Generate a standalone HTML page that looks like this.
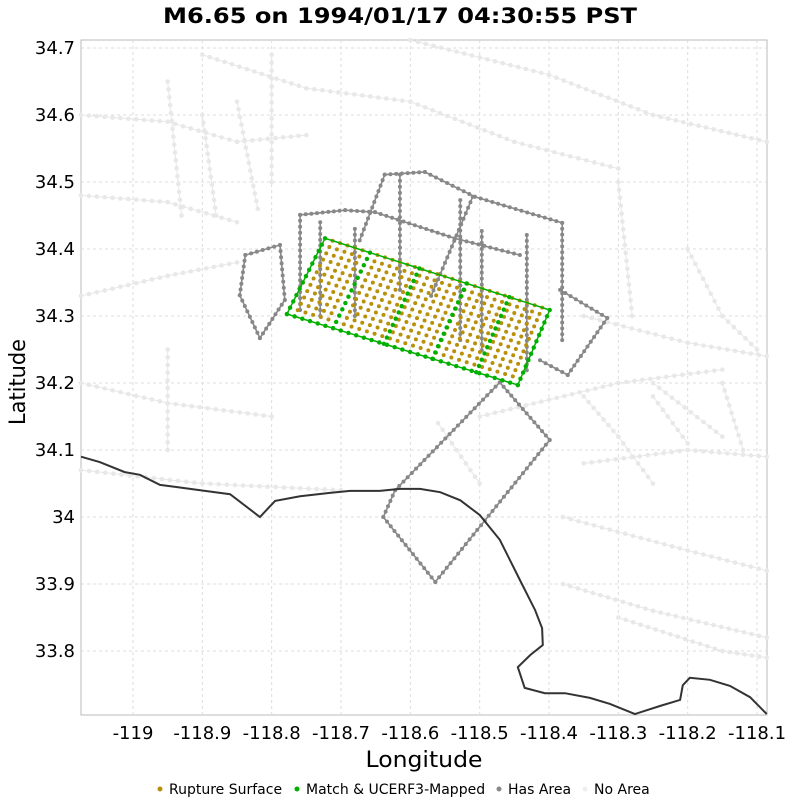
<!DOCTYPE html>
<html><head><meta charset="utf-8"><style>
body{margin:0;background:#fff;font-family:"DejaVu Sans",sans-serif}
</style></head><body>
<svg id="c" width="800" height="800" xmlns="http://www.w3.org/2000/svg" style="font-family:'DejaVu Sans',sans-serif">
<text x="400" y="23" text-anchor="middle" font-size="21" font-weight="bold" textLength="474" lengthAdjust="spacingAndGlyphs">M6.65 on 1994/01/17 04:30:55 PST</text>
<g id="grid"></g><g id="bg"></g><g id="has"></g><g id="rup"></g><g id="coast"></g><g id="axes"></g>
<text x="424" y="767" text-anchor="middle" font-size="22" textLength="117" lengthAdjust="spacingAndGlyphs">Longitude</text>
<text transform="translate(25,382) rotate(-90)" text-anchor="middle" font-size="22" textLength="86" lengthAdjust="spacingAndGlyphs">Latitude</text>
<g font-size="14">
<circle cx="160" cy="789" r="2.5" fill="#b8900a"/><text x="169" y="794">Rupture Surface</text>
<circle cx="297" cy="789" r="2.5" fill="#00b000"/><text x="306" y="794">Match &amp; UCERF3-Mapped</text>
<circle cx="499" cy="789" r="2.5" fill="#888"/><text x="508" y="794">Has Area</text>
<circle cx="585" cy="789" r="2.5" fill="#eee"/><text x="594" y="794">No Area</text>
</g>
</svg>
<script>
const xTicks=[-119,-118.9,-118.8,-118.7,-118.6,-118.5,-118.4,-118.3,-118.2,-118.1];
const xTickLabels=["-119","-118.9","-118.8","-118.7","-118.6","-118.5","-118.4","-118.3","-118.2","-118.1"];
const yTicks=[34.7,34.6,34.5,34.4,34.3,34.2,34.1,34,33.9,33.8];
const yTickLabels=["34.7","34.6","34.5","34.4","34.3","34.2","34.1","34","33.9","33.8"];
const lonMin=-119.075,lonMax=-118.0856,latMin=33.7045,latMax=34.712;
const coastLon=[-119.075,-119.048,-119.012,-118.990,-118.961,-118.939,-118.903,-118.860,-118.817,-118.795,-118.759,-118.716,-118.687,-118.644,-118.615,-118.586,-118.557,-118.528,-118.500,-118.471,-118.442,-118.420,-118.410,-118.409,-118.427,-118.445,-118.435,-118.406,-118.377,-118.341,-118.312,-118.276,-118.240,-118.211,-118.207,-118.197,-118.168,-118.139,-118.110,-118.086];
const coastLat=[34.090,34.082,34.067,34.063,34.048,34.045,34.040,34.034,34.000,34.024,34.031,34.036,34.039,34.039,34.042,34.042,34.037,34.025,34.003,33.966,33.906,33.861,33.834,33.809,33.794,33.776,33.745,33.737,33.737,33.730,33.721,33.706,33.718,33.727,33.749,33.760,33.757,33.748,33.731,33.706];
const hasAreaFaults=[
 [[-118.471,34.201],[-118.622,34.040],[-118.639,34.000],[-118.564,33.903],[-118.399,34.115],[-118.471,34.201]],
 [[-118.673,34.413],[-118.637,34.511],[-118.579,34.515],[-118.507,34.478],[-118.381,34.439],[-118.381,34.264]],
 [[-118.759,34.451],[-118.694,34.458],[-118.651,34.455],[-118.536,34.416],[-118.442,34.391]],
 [[-118.838,34.391],[-118.788,34.406],[-118.781,34.324],[-118.817,34.267],[-118.846,34.331],[-118.838,34.391]],
 [[-118.384,34.339],[-118.316,34.297],[-118.373,34.212],[-118.413,34.234]],
 [[-118.759,34.451],[-118.759,34.309]],
 [[-118.615,34.511],[-118.615,34.339]],
 [[-118.528,34.473],[-118.528,34.264]],
 [[-118.497,34.427],[-118.497,34.249]],
 [[-118.432,34.421],[-118.432,34.219]],
 [[-118.510,34.478],[-118.570,34.330]],
 [[-118.730,34.440],[-118.730,34.300]],
 [[-118.680,34.430],[-118.680,34.300]]];
const noAreaFaults=[
 [[-119.075,34.600],[-118.950,34.590],[-118.850,34.560],[-118.750,34.570]],
 [[-118.900,34.690],[-118.750,34.640],[-118.600,34.620],[-118.450,34.560],[-118.300,34.520]],
 [[-118.600,34.712],[-118.400,34.660],[-118.250,34.600],[-118.086,34.560]],
 [[-119.075,34.330],[-118.950,34.360],[-118.850,34.380]],
 [[-118.350,34.300],[-118.200,34.260],[-118.086,34.240]],
 [[-119.075,34.070],[-118.900,34.050],[-118.700,34.040]],
 [[-118.350,34.080],[-118.200,34.100],[-118.086,34.090]],
 [[-118.380,33.900],[-118.250,33.860],[-118.086,33.820]],
 [[-118.800,34.690],[-118.800,34.500]],
 [[-118.950,34.650],[-118.930,34.450]],
 [[-118.300,34.500],[-118.280,34.300]],
 [[-118.250,34.200],[-118.150,34.120]],
 [[-118.500,34.150],[-118.300,34.200],[-118.150,34.220]],
 [[-118.300,33.850],[-118.150,33.800],[-118.086,33.790]],
 [[-119.075,34.480],[-118.950,34.470],[-118.850,34.440]],
 [[-118.900,34.600],[-118.880,34.450]],
 [[-118.850,34.620],[-118.820,34.460]],
 [[-118.200,34.400],[-118.150,34.300],[-118.100,34.250]],
 [[-118.350,34.180],[-118.300,34.120],[-118.250,34.050]],
 [[-118.250,34.180],[-118.200,34.110]],
 [[-118.150,34.200],[-118.120,34.100]],
 [[-119.075,34.200],[-118.950,34.170],[-118.800,34.150]],
 [[-118.950,34.250],[-118.950,34.100]],
 [[-118.560,34.140],[-118.500,34.050]],
 [[-118.380,34.000],[-118.200,33.950],[-118.086,33.920]]];
const rupCorners=[[-118.723,34.416],[-118.399,34.309],[-118.445,34.197],[-118.778,34.303]];
const rupAlong=30, rupDown=12, rupSections=[0,0.2,0.42,0.63,0.82,1];
const NS="http://www.w3.org/2000/svg";
const X0=81,X1=767,Y0=40,Y1=715;
const sx=v=>X0+(v-lonMin)/(lonMax-lonMin)*(X1-X0);
const sy=v=>Y0+(latMax-v)/(latMax-latMin)*(Y1-Y0);
function mk(t,a,p){const e=document.createElementNS(NS,t);for(const k in a)e.setAttribute(k,a[k]);p.appendChild(e);return e;}
const grid=document.getElementById('grid'),axes=document.getElementById('axes');
mk('rect',{x:X0,y:Y0,width:X1-X0,height:Y1-Y0,fill:'#fff',stroke:'#bbb'},grid);
xTicks.forEach((v,i)=>{const x=sx(v);
 const l=mk('line',{x1:x,x2:x,y1:Y0,y2:Y1,stroke:'#ddd','stroke-dasharray':'3,3'},grid);
 
 const t=mk('text',{x:x,y:739,'text-anchor':'middle','font-size':18},axes);t.textContent=xTickLabels[i];
 });
yTicks.forEach((v,i)=>{const y=sy(v);
 const l=mk('line',{x1:X0,x2:X1,y1:y,y2:y,stroke:'#ddd','stroke-dasharray':'3,3'},grid);
 
 const t=mk('text',{x:75,y:y+6,'text-anchor':'end','font-size':18},axes);t.textContent=yTickLabels[i];
 });
function dotted(pts,g,col,lw,r,step){
 const d=pts.map((p,i)=>(i?'L':'M')+sx(p[0]).toFixed(1)+','+sy(p[1]).toFixed(1)).join('');
 const pa=mk('path',{d:d,fill:'none',stroke:col,'stroke-width':lw},g);
 
 for(let i=1;i<pts.length;i++){const ax=sx(pts[i-1][0]),ay=sy(pts[i-1][1]),bx=sx(pts[i][0]),by=sy(pts[i][1]);
  const n=Math.max(1,Math.round(Math.hypot(bx-ax,by-ay)/step));
  for(let k=0;k<=n;k++)mk('circle',{cx:ax+(bx-ax)*k/n,cy:ay+(by-ay)*k/n,r:r,fill:col},g);}
}
const bg=document.getElementById('bg');
noAreaFaults.forEach(f=>dotted(f,bg,'#e8e8e8',1,2.3,8));
const has=document.getElementById('has');
hasAreaFaults.forEach(f=>dotted(f,has,'#888',1.6,2,6));
const rup=document.getElementById('rup');
function bil(u,v){const [a,b,c,d]=rupCorners;
 const tx=a[0]+(b[0]-a[0])*u,ty=a[1]+(b[1]-a[1])*u,bx=d[0]+(c[0]-d[0])*u,by=d[1]+(c[1]-d[1])*u;
 return [tx+(bx-tx)*v,ty+(by-ty)*v];}
for(let i=0;i<=rupAlong;i++)for(let j=0;j<=rupDown;j++){const p=bil(i/rupAlong,j/rupDown);
 const c=mk('circle',{cx:sx(p[0]),cy:sy(p[1]),r:2,fill:'#b8900a'},rup);
 }
const green='#00b000';
const perim=[];for(let i=0;i<=20;i++)perim.push(bil(i/20,0));for(let j=0;j<=10;j++)perim.push(bil(1,j/10));
for(let i=20;i>=0;i--)perim.push(bil(i/20,1));for(let j=10;j>=0;j--)perim.push(bil(0,j/10));
const pd=perim.map((p,i)=>(i?'L':'M')+sx(p[0]).toFixed(1)+','+sy(p[1]).toFixed(1)).join('');
const pp=mk('path',{d:pd,fill:'none',stroke:green,'stroke-width':1.5},rup);

rupSections.forEach(u=>{for(let j=0;j<=rupDown;j++){const p=bil(u,j/rupDown);mk('circle',{cx:sx(p[0]),cy:sy(p[1]),r:2.2,fill:green},rup);}});
for(let i=0;i<=rupAlong;i++){const p=bil(i/rupAlong,1);mk('circle',{cx:sx(p[0]),cy:sy(p[1]),r:2.2,fill:green},rup);}
const coast=document.getElementById('coast');
const cd=coastLon.map((v,i)=>(i?'L':'M')+sx(v).toFixed(1)+','+sy(coastLat[i]).toFixed(1)).join('');
const cp=mk('path',{d:cd,fill:'none',stroke:'#333','stroke-width':2},coast);

</script>
</body></html>
